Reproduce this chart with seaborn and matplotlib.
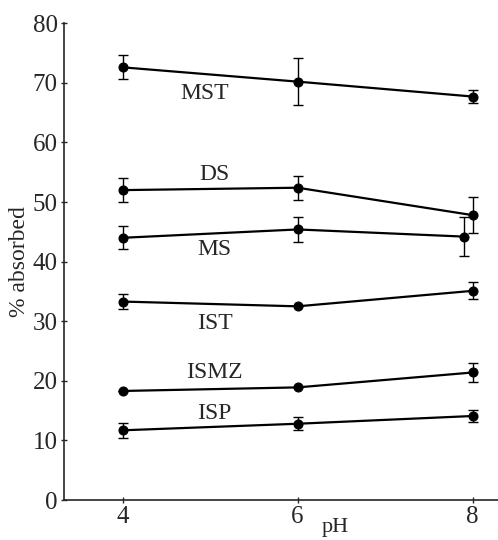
import numpy as np
import pandas as pd
import matplotlib
matplotlib.use("Agg")
import matplotlib.pyplot as plt
import seaborn as sns

ph = [4, 6, 8]
series_names = ["MST", "DS", "MS", "IST", "ISMZ", "ISP"]
mst = [72.6, 70.2, 67.7]
mst_err = [2.0, 4.0, 1.1]
ds = [52.0, 52.4, 47.8]
ds_err = [2.0, 2.0, 3.0]
ms = [44.0, 45.4, 44.2]
ms_err = [1.9, 2.1, 3.3]
ist = [33.3, 32.5, 35.1]
ist_err = [1.2, 0.0, 1.4]
ismz = [18.3, 18.9, 21.4]
ismz_err = [0.0, 0.0, 1.6]
isp = [11.7, 12.8, 14.1]
isp_err = [1.3, 1.1, 1.0]
# pH 8 point of MS is drawn slightly left of 8 in the original
ms_x = [4, 6, 7.9]

label_x = [4.94, 5.05, 5.05, 5.05, 5.05, 5.05]
label_y = [68.2, 54.6, 42.0, 29.6, 21.4, 14.6]

sns.set_style("ticks")
plt.rcParams["font.family"] = ["Liberation Serif", "DejaVu Serif"]

vals = [mst, ds, ms, ist, ismz, isp]
errs = [mst_err, ds_err, ms_err, ist_err, ismz_err, isp_err]
xs = [ph, ph, ms_x, ph, ph, ph]

rows = []
for name, x, v in zip(series_names, xs, vals):
    for xi, vi in zip(x, v):
        rows.append({"pH": xi, "val": vi, "series": name})
df = pd.DataFrame(rows)

fig = plt.figure(figsize=(4.98, 5.4), dpi=100)
ax = fig.add_axes([0.1285, 0.074, 0.8715, 0.883])

sns.lineplot(data=df, x="pH", y="val", hue="series", units="series", estimator=None,
             palette=["black"] * len(series_names), marker="o", markersize=6.5,
             markeredgecolor="black", linewidth=1.6, legend=False, ax=ax, sort=False)

for x, v, e in zip(xs, vals, errs):
    ax.errorbar(x, v, yerr=e, fmt="none", ecolor="black", elinewidth=1.0,
                capsize=3.5, capthick=1.0)

for name, lx, ly in zip(series_names, label_x, label_y):
    ax.text(lx, ly, name, ha="center", va="center", fontsize=17)

ax.set_xlim(3.33, 8.29)
ax.set_ylim(0, 80)
ax.set_xticks([4, 6, 8])
ax.set_yticks(range(0, 81, 10))
ax.tick_params(direction="inout", length=5, width=1, labelsize=18, pad=2)
ax.spines["top"].set_visible(False)
ax.spines["right"].set_visible(False)
ax.spines["left"].set_linewidth(1.2)
ax.spines["bottom"].set_linewidth(1.2)
ax.set_xlabel("pH", fontsize=16)
ax.xaxis.set_label_coords(0.625, -0.038)
ax.set_ylabel("% absorbed", fontsize=17, labelpad=2)

fig.savefig("out.png", dpi=100)
